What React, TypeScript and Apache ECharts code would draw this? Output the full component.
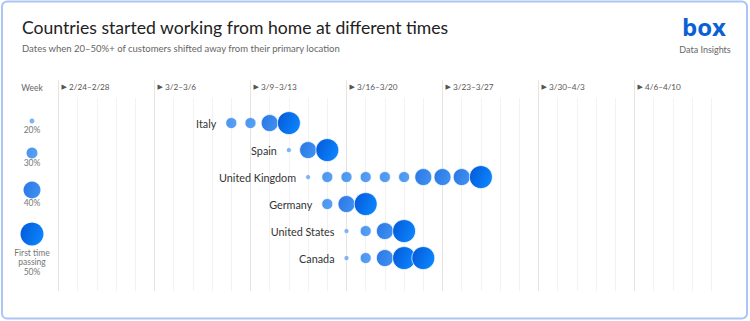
import React, { useEffect, useRef } from "react";
import * as echarts from "echarts";

const countries = ["Italy", "Spain", "United Kingdom", "Germany", "United States", "Canada"];
const weekLabels = ["2/24–2/28", "3/2–3/6", "3/9–3/13", "3/16–3/20", "3/23–3/27", "3/30–4/3", "4/6–4/10"];
// day index: 0 = Mon 2/24, 5 working days per week
const italyDays = [9, 10, 11, 12];
const italyShare = [30, 30, 40, 50];
const spainDays = [12, 13, 14];
const spainShare = [20, 40, 50];
const ukDays = [13, 14, 15, 16, 17, 18, 19, 20, 21, 22];
const ukShare = [20, 30, 30, 30, 30, 30, 40, 40, 40, 50];
const germanyDays = [14, 15, 16];
const germanyShare = [30, 40, 50];
const usDays = [15, 16, 17, 18];
const usShare = [20, 30, 40, 50];
const canadaDays = [15, 16, 17, 18, 19];
const canadaShare = [20, 30, 40, 50, 50];
const legendLevels = ["20%", "30%", "40%", "50%"];

const rows = [
  [italyDays, italyShare],
  [spainDays, spainShare],
  [ukDays, ukShare],
  [germanyDays, germanyShare],
  [usDays, usShare],
  [canadaDays, canadaShare],
];

const sizeOf: Record<number, number> = { 20: 5, 30: 11, 40: 17, 50: 23 };
const colorOf = (s: number) => {
  const stops: Record<number, [string, string]> = {
    20: ["#78aef3", "#82b6f6"],
    30: ["#4b92ec", "#58a0f4"],
    40: ["#2a76e2", "#3d8ef2"],
    50: ["#0457d6", "#0b82fb"],
  };
  const [a, b] = stops[s];
  return new echarts.graphic.LinearGradient(0, 0, 1, 0.4, [
    { offset: 0, color: a },
    { offset: 1, color: b },
  ]);
};

const FONT = "Lato, 'Noto Sans', sans-serif";

export default function App() {
  const ref = useRef<HTMLDivElement>(null);
  useEffect(() => {
    if (!ref.current) return;
    const chart = echarts.init(ref.current, undefined, { renderer: "svg" });

    const data: any[] = [];
    rows.forEach(([days, shares], r) => {
      days.forEach((d, i) => {
        const s = shares[i];
        data.push({
          value: [d, r, s],
          symbolSize: sizeOf[s],
          itemStyle: { color: colorOf(s) },
          label:
            i === 0
              ? {
                  show: true,
                  position: "left",
                  distance: 9,
                  formatter: countries[r],
                  color: "#333",
                  fontSize: 10.8,
                  fontFamily: FONT,
                }
              : { show: false },
        });
      });
    });

    const dayColors: string[] = [];
    for (let i = 0; i < 35; i++) dayColors.push(i % 5 === 0 ? "#e3e3e3" : "#f2f2f2");

    const legendY = [121, 153, 190, 234];
    const legendLabelY = [130, 163, 203];
    const legendGraphics: any[] = [];
    legendLevels.forEach((lv, i) => {
      const s = parseInt(lv, 10);
      legendGraphics.push({
        type: "circle",
        shape: { cx: 32, cy: legendY[i], r: sizeOf[s] / 2 },
        style: { fill: colorOf(s) },
      });
      if (i < 3) {
        legendGraphics.push({
          type: "text",
          x: 32,
          y: legendLabelY[i],
          style: { text: lv, fill: "#777", fontSize: 8.5, fontFamily: FONT, align: "center", verticalAlign: "middle" },
        });
      } else {
        legendGraphics.push({
          type: "text",
          x: 32,
          y: 262,
          style: {
            text: "First time\npassing\n" + lv,
            fill: "#777",
            fontSize: 8.5,
            lineHeight: 9.5,
            fontFamily: FONT,
            align: "center",
            verticalAlign: "middle",
          },
        });
      }
    });

    chart.setOption({
      animation: false,
      backgroundColor: "#fff",
      grid: [
        { left: 58.5, right: 19.5, top: 80, height: 18 },
        { left: 58.5, right: 19.5, top: 98, bottom: 30 },
      ],
      xAxis: [
        {
          gridIndex: 0,
          type: "value",
          min: 0,
          max: 35,
          interval: 5,
          position: "top",
          axisLine: { show: false },
          axisTick: { show: false },
          splitLine: { show: true, showMaxLine: false, lineStyle: { color: "#e3e3e3", width: 1 } },
          axisLabel: {
            inside: true,
            margin: 3,
            align: "left",
            showMaxLabel: false,
            formatter: (v: number) => (v % 5 === 0 && v / 5 < weekLabels.length ? `{tri|▶}{txt| ${weekLabels[v / 5]}}` : ""),
            rich: {
              tri: { fontSize: 7, color: "#555", padding: [0, 0, 0, 3], fontFamily: "DejaVu Sans" },
              txt: { fontSize: 8.2, color: "#555", fontFamily: FONT },
            },
          },
        },
        {
          gridIndex: 1,
          type: "value",
          min: 0,
          max: 35,
          interval: 1,
          axisLine: { show: false },
          axisTick: { show: false },
          axisLabel: { show: false },
          splitLine: { show: true, showMaxLine: false, lineStyle: { color: dayColors, width: 1 } },
        },
      ],
      yAxis: [
        { gridIndex: 0, type: "value", show: false, splitLine: { show: false } },
        {
          gridIndex: 1,
          type: "value",
          min: -0.93,
          max: 6.22,
          inverse: true,
          show: false,
          splitLine: { show: false },
        },
      ],
      series: [
        {
          type: "scatter",
          xAxisIndex: 1,
          yAxisIndex: 1,
          data,
          itemStyle: { borderColor: "rgba(255,255,255,0.7)", borderWidth: 1, opacity: 1 },
          emphasis: { disabled: true },
        },
      ],
      graphic: [
        {
          type: "rect",
          shape: { x: 2, y: 1.5, width: 745, height: 317, r: 5 },
          style: { fill: "none", stroke: "#abc6f2", lineWidth: 2 },
          silent: true,
        },
        {
          type: "text",
          x: 22,
          y: 27,
          style: {
            text: "Countries started working from home at different times",
            fill: "#222",
            fontSize: 17.6,
            fontFamily: FONT,
            verticalAlign: "middle",
          },
        },
        {
          type: "text",
          x: 22,
          y: 48,
          style: {
            text: "Dates when 20–50%+ of customers shifted away from their primary location",
            fill: "#666",
            fontSize: 9.5,
            fontFamily: FONT,
            verticalAlign: "middle",
          },
        },
        {
          type: "text",
          x: 704,
          y: 26,
          style: {
            text: "box",
            fill: "#0a61d6",
            fontSize: 24,
            fontWeight: "bold",
            fontFamily: "'Open Sans', sans-serif",
            align: "center",
            verticalAlign: "middle",
          },
        },
        {
          type: "text",
          x: 705,
          y: 49,
          style: {
            text: "Data Insights",
            fill: "#666",
            fontSize: 9,
            fontFamily: FONT,
            align: "center",
            verticalAlign: "middle",
          },
        },
        {
          type: "text",
          x: 32,
          y: 88,
          style: { text: "Week", fill: "#666", fontSize: 8.5, fontFamily: FONT, align: "center", verticalAlign: "middle" },
        },
        ...legendGraphics,
      ],
    });
    return () => chart.dispose();
  }, []);
  return (
    <div style={{ position: "fixed", left: 0, top: 0, width: 750, height: 321 }}>
      <div ref={ref} style={{ width: 750, height: 321 }} />
    </div>
  );
}
